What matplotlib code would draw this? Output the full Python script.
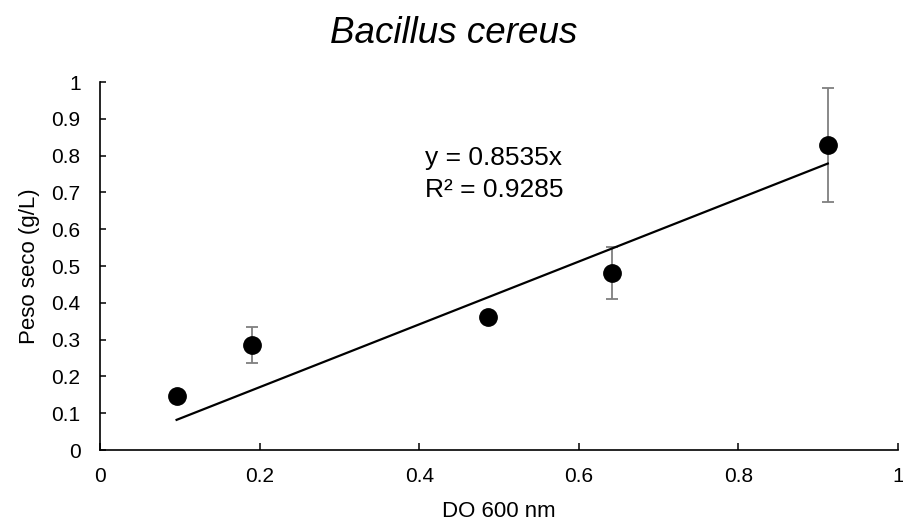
import matplotlib
matplotlib.use("Agg")
import matplotlib.pyplot as plt
import numpy as np

plt.rcParams['font.family'] = ['Liberation Sans', 'DejaVu Sans']

# Optical density vs dry weight measurements
od600 = [0.096, 0.190, 0.486, 0.642, 0.912]
dry_weight = [0.147, 0.285, 0.361, 0.480, 0.829]
dry_weight_err = [0.0, 0.049, 0.0, 0.071, 0.155]

# Linear fit through origin
slope = 0.8535
r_squared = 0.9285

x_ticks = [0, 0.2, 0.4, 0.6, 0.8, 1]
y_ticks = [0, 0.1, 0.2, 0.3, 0.4, 0.5, 0.6, 0.7, 0.8, 0.9, 1]

fig = plt.figure(figsize=(9.04, 5.27), dpi=100)
ax = fig.add_axes([0.1106, 0.1461, 0.8828, 0.6983])

ax.errorbar(od600, dry_weight, yerr=dry_weight_err, fmt='none',
            ecolor='#7f7f7f', elinewidth=1.3, capsize=4.5, capthick=1.3, zorder=2)
ax.plot(od600, dry_weight, 'o', color='black', markersize=12.5, zorder=4)

xfit = np.array([min(od600), max(od600)])
ax.plot(xfit, slope * xfit, color='black', linewidth=1.6, zorder=3)

ax.text(0.407, 0.793, f"y = {slope}x", fontsize=19, va='center', ha='left')
ax.text(0.407, 0.707, f"R² = {r_squared}", fontsize=19, va='center', ha='left')

ax.set_xlim(0, 1)
ax.set_ylim(0, 1)
ax.set_xticks(x_ticks)
ax.set_xticklabels([f"{t:g}" for t in x_ticks])
ax.set_yticks(y_ticks)
ax.set_yticklabels([f"{t:g}" for t in y_ticks])

for s in ['top', 'right']:
    ax.spines[s].set_visible(False)
for s in ['left', 'bottom']:
    ax.spines[s].set_linewidth(1.2)
    ax.spines[s].set_color('black')

ax.tick_params(axis='x', direction='in', length=5, width=1.1, labelsize=15, pad=12)
ax.tick_params(axis='y', direction='in', length=4.5, width=1.1, labelsize=15, pad=14)

ax.set_xlabel("DO 600 nm", fontsize=16, labelpad=11)
ax.set_ylabel("Peso seco (g/L)", fontsize=16, labelpad=8)
fig.text(0.502, 0.937, "Bacillus cereus", fontsize=26.5, style='italic',
         ha='center', va='center')

fig.savefig("out.png", dpi=100)
